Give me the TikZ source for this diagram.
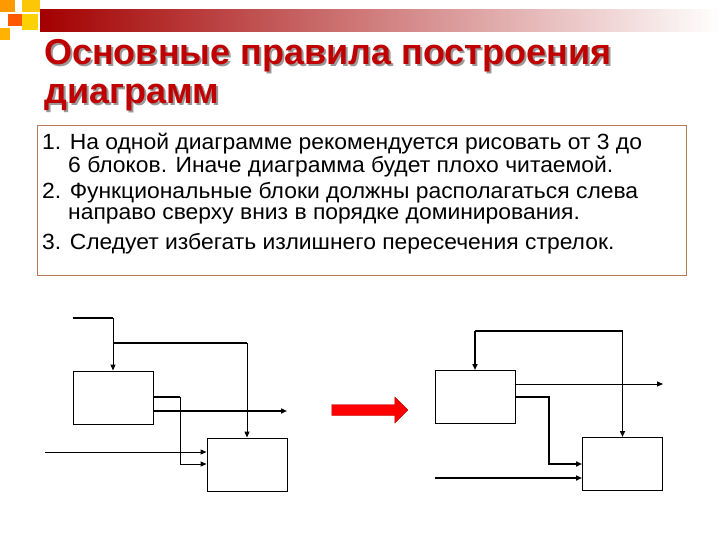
\documentclass[tikz,border=0pt]{standalone}
\usepackage{fontspec}
\setmainfont{Liberation Sans}
\usetikzlibrary{arrows.meta,shapes.arrows}
\definecolor{tred}{RGB}{192,0,0}
\definecolor{bord}{RGB}{190,120,90}
\begin{document}
\begin{tikzpicture}[x=1pt,y=-1pt,
 blk/.style={draw,line width=1pt,minimum width=80pt,minimum height=53pt,inner sep=0pt},
 ln/.style={line width=1pt,-{Triangle[length=6pt,width=5pt]}},
 th/.style={line width=1.8pt},
 ttl/.style={anchor=west,font=\bfseries\fontsize{36}{38}\selectfont,inner sep=0pt},
 tx/.style={font=\fontsize{22}{24}\selectfont,anchor=west,inner sep=0pt,xscale=1.04}]
\useasboundingbox (0,0) rectangle (720,540);
% decoration
\shade[left color=tred!85!black,right color=white] (40,10) rectangle (720,32);
\fill[orange!80!yellow] (0,0) rectangle (15,12);
\fill[yellow!60!orange] (22,0) rectangle (40,12);
\fill[orange!70!red] (8,14) rectangle (22,26);
\fill[yellow!70!orange] (22,14) rectangle (38,30);
\fill[orange!60!yellow] (0,28) rectangle (10,40);
% title
\node[ttl,text=black!40] at (46,58) {Основные правила построения};
\node[ttl,text=tred] (t1) at (44,56) {Основные правила построения};
\node[ttl,text=black!40] at (46,100) {диаграмм};
\node[ttl,text=tred] (t2) at (44,98) {диаграмм};
% text box
\draw[bord,line width=0.8pt] (37,125) rectangle (686,275);
\node[tx] (l1) at (42,144) {1. На одной диаграмме рекомендуется рисовать от 3 до};
\node[tx] (l2) at (68,167) {6 блоков. Иначе диаграмма будет плохо читаемой.};
\node[tx] (l3) at (42,193) {2. Функциональные блоки должны располагаться слева};
\node[tx] (l4) at (68,216) {направо сверху вниз в порядке доминирования.};
\node[tx] (l5) at (42,244) {3. Следует избегать излишнего пересечения стрелок.};
% left diagram
\node[blk] (a1) at (113,397.5) {};
\node[blk] (a2) at (247,464.5) {};
\coordinate (ai1) at (73,318);
\coordinate (ai2) at (45,452);
\coordinate (ao) at (287,411);
\draw[th] (ai1) -- (113,318);
\draw[ln] (113,318) -- (a1.north);
\draw[th] (113,343) -- (247,343);
\draw[ln] (247,343) -- (a2.north);
\draw[th] (153,397) -- (180,397);
\draw[ln] (180,397) -- (180,464) -- (a2.west|-0,464);
\draw[ln,line width=1.8pt] (153,411) -- (ao);
\draw[ln] (ai2) -- (a2.west|-ai2);
% red arrow
\node[single arrow,fill=red,draw=red!70!black,minimum height=76pt,minimum width=26pt,single arrow head extend=3pt,inner sep=2pt] (ra) at (367,410) {};
% right diagram
\node[blk] (b1) at (475,397) {};
\node[blk] (b2) at (622.5,464) {};
\coordinate (bc) at (475,331);
\coordinate (bi) at (435,478);
\coordinate (bo) at (663,384);
\draw[ln,line width=1.8pt] (bc) -- (b1.north);
\draw[ln,line width=1.8pt] (bc) -- (622.5,331) -- (b2.north);
\draw[ln] (b1.east|-bo) -- (bo);
\draw[ln,line width=1.8pt] (b1.east|-0,397) -- (549,397) -- (549,464) -- (b2.west|-0,464);
\draw[ln,line width=1.8pt] (bi) -- (b2.west|-bi);
\end{tikzpicture}
\end{document}
